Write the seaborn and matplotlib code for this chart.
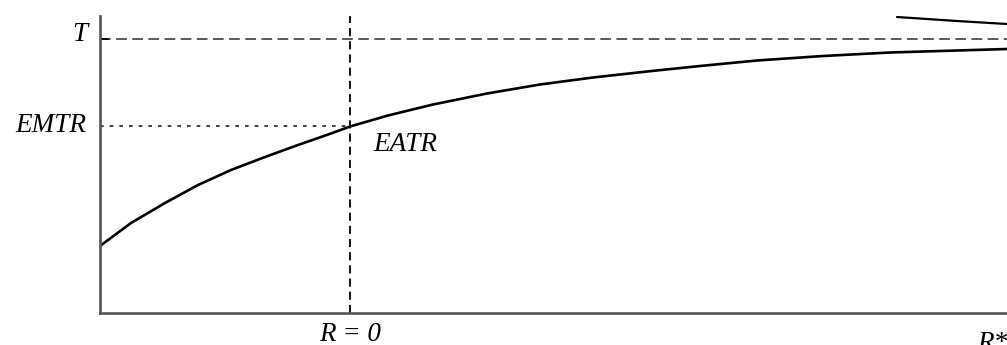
import numpy as np
import pandas as pd
import matplotlib
matplotlib.use("Agg")
import matplotlib.pyplot as plt
import seaborn as sns

# ---- data ----
eatr_x = [0.0, 0.31, 0.65, 0.98, 1.31, 1.65, 1.98, 2.31, 2.5, 2.88, 3.33,
          3.87, 4.40, 4.93, 5.47, 6.00, 6.57, 7.23, 7.90, 8.57, 9.07, 9.3]
eatr_y = [0.67, 0.90, 1.10, 1.28, 1.43, 1.56, 1.68, 1.795, 1.865, 1.975, 2.085,
          2.195, 2.285, 2.355, 2.415, 2.47, 2.525, 2.57, 2.605, 2.625, 2.64, 2.645]
upper_x = [7.97, 8.57, 9.07, 9.3]
upper_y = [2.96, 2.92, 2.89, 2.88]
T_level = 2.74
EMTR_level = 1.87
R0_x = 2.5
Rstar_x = 8.77
x_labels = ["R = 0", "R*"]
y_labels = ["T", "EMTR"]

sns.set_style("white")
plt.rcParams['font.family'] = ['Liberation Serif', 'DejaVu Serif']

fig = plt.figure(figsize=(10.07, 3.45), dpi=100)
ax = fig.add_axes([100 / 1007, 32 / 345, 930 / 1007, 297 / 345])

df_main = pd.DataFrame({"x": eatr_x, "y": eatr_y})
df_up = pd.DataFrame({"x": upper_x, "y": upper_y})
sns.lineplot(data=df_main, x="x", y="y", ax=ax, color="black", lw=1.9, sort=False)
sns.lineplot(data=df_up, x="x", y="y", ax=ax, color="black", lw=1.6, sort=False)

# reference lines
ax.axhline(T_level, color="#5a5a5a", lw=1.4, dashes=(5.5, 2.8), zorder=1)
ax.axvline(R0_x, color="black", lw=1.3, dashes=(4.5, 2.8), zorder=1)
ax.plot([0, R0_x], [EMTR_level, EMTR_level], color="#222222", lw=1.2,
        dashes=(2.2, 3.6), zorder=1)
ax.plot([0, 0.08], [T_level, T_level], color="black", lw=1.3, zorder=2)

ax.set_xlim(0, 9.3)
ax.set_ylim(0, 2.97)
ax.set_xticks([])
ax.set_yticks([])
ax.set_xlabel("")
ax.set_ylabel("")
for s in ["top", "right"]:
    ax.spines[s].set_visible(False)
for s in ["left", "bottom"]:
    ax.spines[s].set_color("#555555")
    ax.spines[s].set_linewidth(1.9)

fs = 19.5
tkw = dict(fontsize=fs, style="italic", color="black", clip_on=False)
ax.text(-0.13, T_level + 0.05, y_labels[0], ha="right", va="center", **tkw)
ax.text(-0.14, EMTR_level + 0.01, y_labels[1], ha="right", va="center", **tkw)
ax.text(R0_x + 0.23, 1.685, "EATR", ha="left", va="center", **tkw)
ax.text(R0_x, -0.09, x_labels[0], ha="center", va="top", **tkw)
ax.text(Rstar_x, -0.18, x_labels[1], ha="left", va="top", **tkw)

fig.savefig("out.png", dpi=100)
